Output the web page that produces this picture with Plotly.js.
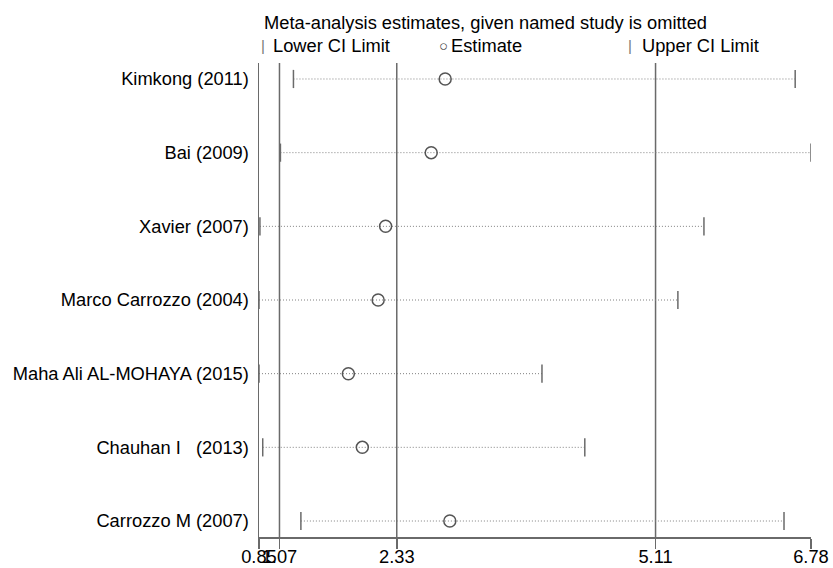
<!DOCTYPE html>
<html>
<head>
<meta charset="utf-8">
<script src="https://cdn.plot.ly/plotly-3.0.1.min.js"></script>
<style>html,body{margin:0;padding:0;background:#fff;}#chart{width:833px;height:568px;}</style>
</head>
<body>
<div id="chart"></div>
<script>
// ---- data ----
const studies = ["Kimkong (2011)", "Bai (2009)", "Xavier (2007)", "Marco Carrozzo (2004)",
                 "Maha Ali AL-MOHAYA (2015)", "Chauhan I\u00a0\u00a0\u00a0(2013)", "Carrozzo M (2007)"];
const lowerCI  = [1.22, 1.08, 0.86, 0.85, 0.85, 0.89, 1.30];
const estimate = [2.85, 2.70, 2.21, 2.13, 1.81, 1.96, 2.90];
const upperCI  = [6.61, 6.78, 5.63, 5.35, 3.89, 4.35, 6.49];
const overall  = [1.07, 2.33, 5.11];          // pooled lower CI, estimate, upper CI
const tickVals = [0.85, 1.07, 2.33, 5.11, 6.78];
const tickText = ["0.85", "1.07", "2.33", "5.11", "6.78"];
const titleText = "Meta-analysis estimates, given named study is omitted";
const legendText = ["Lower CI Limit", "Estimate", "Upper CI Limit"];

const FONT = "Liberation Sans, Arial, Helvetica, sans-serif";
const FS = 18.3;
const GRAY = "#6a6a6a";

const traces = [];
// dotted CI lines
studies.forEach((s, i) => {
  traces.push({
    type: "scatter", mode: "lines",
    x: [lowerCI[i], upperCI[i]], y: [s, s],
    line: {color: "#808080", width: 1, dash: "1px,2px"},
    showlegend: false, hoverinfo: "skip"
  });
});
traces.push({
  type: "scatter", mode: "markers", name: legendText[0],
  x: lowerCI, y: studies,
  marker: {symbol: "line-ns", size: 13, line: {color: GRAY, width: 1.5}},
  showlegend: false
});
traces.push({
  type: "scatter", mode: "markers", name: legendText[2],
  x: upperCI, y: studies,
  marker: {symbol: "line-ns", size: 13, line: {color: GRAY, width: 1.5}},
  showlegend: false
});
traces.push({
  type: "scatter", mode: "markers", name: legendText[1],
  x: estimate, y: studies,
  marker: {symbol: "circle-open", size: 12, color: "#555", line: {color: "#555", width: 1.5}},
  showlegend: false
});

const shapes = overall.map(v => ({
  type: "line", xref: "x", yref: "paper", x0: v, x1: v, y0: 0, y1: 1,
  line: {color: GRAY, width: 1.5}, layer: "below"
}));

const L = 259, R = 811, T = 63, B = 537;
const px = p => (p - L) / (R - L);
const py = p => (B - p) / (B - T);

const annotations = [
  {text: titleText, x: px(262), y: py(23), xanchor: "left", font: {size: FS, color: "#000"}},
  {text: "|", x: px(262.5), y: py(45), xanchor: "center", font: {size: 15, color: "#777"}},
  {text: legendText[0], x: px(271), y: py(45.5), xanchor: "left", font: {size: FS, color: "#000"}},
  {text: "\u25cb", x: px(443), y: py(45.5), xanchor: "center", font: {size: 15, color: "#444"}},
  {text: legendText[1], x: px(449), y: py(45.5), xanchor: "left", font: {size: FS, color: "#000"}},
  {text: "|", x: px(630), y: py(45), xanchor: "center", font: {size: 15, color: "#777"}},
  {text: legendText[2], x: px(639.5), y: py(45.5), xanchor: "left", font: {size: FS, color: "#000"}}
].map(a => Object.assign({xref: "paper", yref: "paper", yanchor: "middle", showarrow: false}, a,
                         {font: Object.assign({family: FONT}, a.font)}));

const layout = {
  width: 833, height: 568,
  margin: {l: L, r: 833 - R, t: T, b: 568 - B, pad: 0},
  paper_bgcolor: "#fff", plot_bgcolor: "#fff",
  font: {family: FONT, size: FS, color: "#000"},
  showlegend: false,
  xaxis: {
    range: [0.85, 6.78], tickmode: "array", tickvals: tickVals, ticktext: tickText,
    tickangle: 0,
    showgrid: false, zeroline: false, showline: true, linecolor: GRAY, linewidth: 1.5,
    ticks: "outside", ticklen: 10, tickwidth: 1.5, tickcolor: GRAY,
    ticklabelstandoff: -7,
    tickfont: {family: FONT, size: FS, color: "#000"}, fixedrange: true
  },
  yaxis: {
    type: "category", categoryorder: "array", categoryarray: studies,
    range: [6.217, -0.217],
    showgrid: false, zeroline: false, showline: true, linecolor: GRAY, linewidth: 1.5,
    ticks: "", ticklabelstandoff: 5,
    tickfont: {family: FONT, size: FS, color: "#000"}, fixedrange: true
  },
  shapes: shapes,
  annotations: annotations
};

Plotly.newPlot("chart", traces, layout, {displayModeBar: false, staticPlot: true});
</script>
</body>
</html>
